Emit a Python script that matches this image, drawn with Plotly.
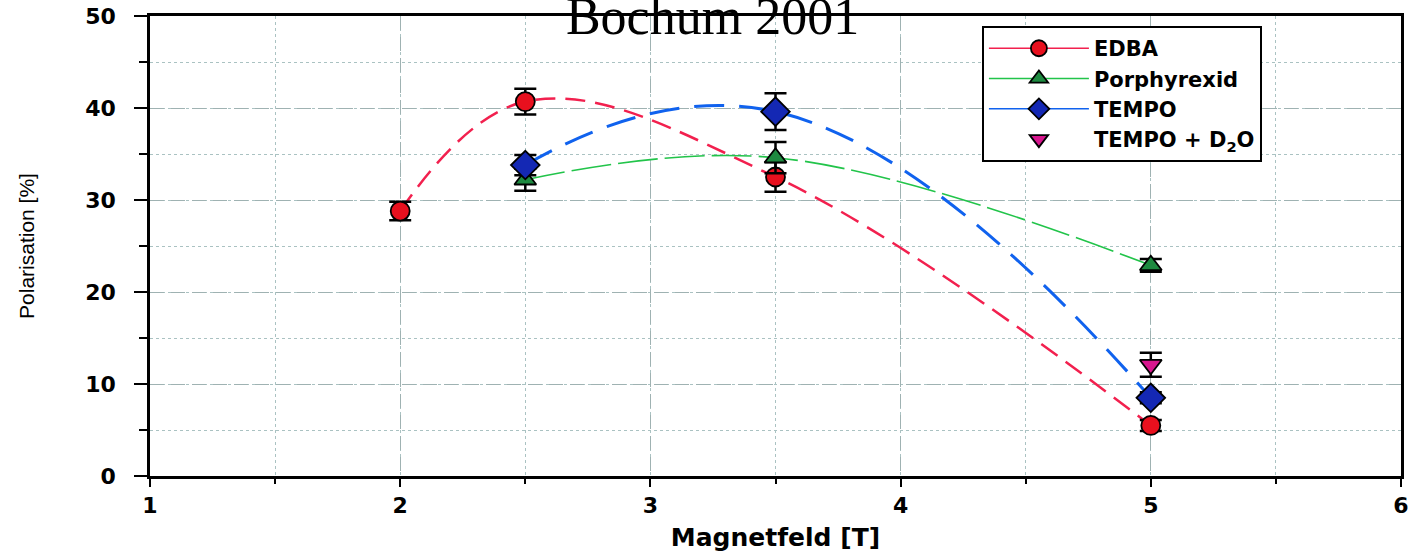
import plotly.graph_objects as go

# ---- data ----
edba_x = [2, 2.5, 3.5, 5]
edba_y = [28.8, 40.7, 32.5, 5.5]
edba_err = [1.0, 1.4, 1.6, 0.6]

por_x = [2.5, 3.5, 5]
por_y = [32.2, 34.6, 22.9]
por_err = [1.2, 1.7, 0.7]

tempo_x = [2.5, 3.5, 5]
tempo_y = [33.8, 39.6, 8.5]
tempo_err = [1.1, 2.0, 0.6]

d2o_x = [5]
d2o_y = [12.1]
d2o_err = [1.3]

names = ["EDBA", "Porphyrexid", "TEMPO", "TEMPO + D<sub>2</sub>O"]
x_ticks = [1, 2, 3, 4, 5, 6]
y_ticks = [0, 10, 20, 30, 40, 50]

RED_L, RED_M = "#f2204e", "#e8101e"
GRN_L, GRN_M = "#22c44a", "#1e8a40"
BLU_L, BLU_M = "#1062ee", "#1428b4"
MAG_M = "#d8168e"

fig = go.Figure()

# fitted curves (dashed)
fig.add_trace(go.Scatter(x=edba_x, y=edba_y, mode="lines", showlegend=False,
                         line=dict(color=RED_L, width=2.5, dash="20px,10px", shape="spline", smoothing=1.1),
                         hoverinfo="skip"))
fig.add_trace(go.Scatter(x=por_x, y=por_y, mode="lines", showlegend=False,
                         line=dict(color=GRN_L, width=1.6, dash="40px,7px", shape="spline", smoothing=1.1),
                         hoverinfo="skip"))
fig.add_trace(go.Scatter(x=tempo_x, y=tempo_y, mode="lines", showlegend=False,
                         line=dict(color=BLU_L, width=3, dash="30px,15px", shape="spline", smoothing=1.3),
                         hoverinfo="skip"))

def err(v):
    return dict(type="data", array=v, visible=True, color="black", thickness=2.5, width=11)

mk_line = dict(color="black", width=1.8)

fig.add_trace(go.Scatter(x=edba_x, y=edba_y, mode="markers", showlegend=False, error_y=err(edba_err),
                         marker=dict(symbol="circle", size=19, color=RED_M, line=mk_line)))
fig.add_trace(go.Scatter(x=por_x, y=por_y, mode="markers", showlegend=False, error_y=err(por_err),
                         marker=dict(symbol="triangle-up", size=19, color=GRN_M, line=mk_line)))
fig.add_trace(go.Scatter(x=tempo_x, y=tempo_y, mode="markers", showlegend=False, error_y=err(tempo_err),
                         marker=dict(symbol="diamond", size=22, color=BLU_M, line=mk_line)))
fig.add_trace(go.Scatter(x=d2o_x, y=d2o_y, mode="markers", showlegend=False, error_y=err(d2o_err),
                         marker=dict(symbol="triangle-down", size=19, color=MAG_M, line=mk_line)))

# legend entries (solid line + marker, as in the reference)
leg_specs = [
    (names[0], "lines+markers", RED_L, "circle", RED_M),
    (names[1], "lines+markers", GRN_L, "triangle-up", GRN_M),
    (names[2], "lines+markers", BLU_L, "diamond", BLU_M),
    (names[3], "markers", None, "triangle-down", MAG_M),
]
for nm, mode, lc, sym, mc in leg_specs:
    fig.add_trace(go.Scatter(x=[None], y=[None], mode=mode, name=nm,
                             line=dict(color=lc or "black", width=1.5),
                             marker=dict(symbol=sym, size=16, color=mc, line=mk_line)))

axis_common = dict(showline=True, linecolor="black", linewidth=2.5, mirror=True,
                   ticks="outside", tickcolor="black", tickwidth=2,
                   showgrid=True, gridcolor="#9fb2b2", gridwidth=1, griddash="14px,7px",
                   zeroline=False, automargin=False, ticklabeloverflow="allow",
                   tickfont=dict(family="DejaVu Sans", size=22, color="black", weight="bold"))

fig.update_xaxes(**axis_common, range=[1, 6], tickmode="array", tickvals=x_ticks,
                 ticklen=8, ticklabelstandoff=0,
                 minor=dict(dtick=0.5, ticks="outside", ticklen=5, tickwidth=2, tickcolor="black",
                            showgrid=True, gridcolor="#aac2c2", griddash="dot", gridwidth=1),
                 title=dict(text="Magnetfeld [T]", standoff=17,
                            font=dict(family="DejaVu Sans", size=25, color="black", weight="bold")))
fig.update_yaxes(**axis_common, range=[0, 50], tickmode="array", tickvals=y_ticks,
                 ticklen=13, ticklabelstandoff=14,
                 minor=dict(dtick=5, ticks="outside", ticklen=8, tickwidth=2, tickcolor="black",
                            showgrid=True, gridcolor="#aac2c2", griddash="dot", gridwidth=1),
                 title=dict(text="Polarisation [%]", standoff=45,
                            font=dict(family="Liberation Sans", size=21, color="black")))

fig.update_layout(
    width=1411, height=552,
    margin=dict(l=150, r=10, t=16, b=76, autoexpand=False),
    paper_bgcolor="white", plot_bgcolor="white",
    title=dict(text="Bochum 2001", xref="container", x=0.505, xanchor="center",
               yref="container", y=0.971, yanchor="middle",
               font=dict(family="Liberation Serif", size=52, color="black")),
    legend=dict(x=0.665, y=0.978, xanchor="left", yanchor="top",
                bgcolor="white", bordercolor="black", borderwidth=2,
                itemwidth=100, tracegroupgap=0,
                font=dict(family="DejaVu Sans", size=21, color="black", weight="bold")),
    showlegend=True,
)

# remove the default page margin so the figure fills the window exactly
fig.write_html("out.html", config={"displayModeBar": False},
               post_script="document.body.style.margin='0';")
